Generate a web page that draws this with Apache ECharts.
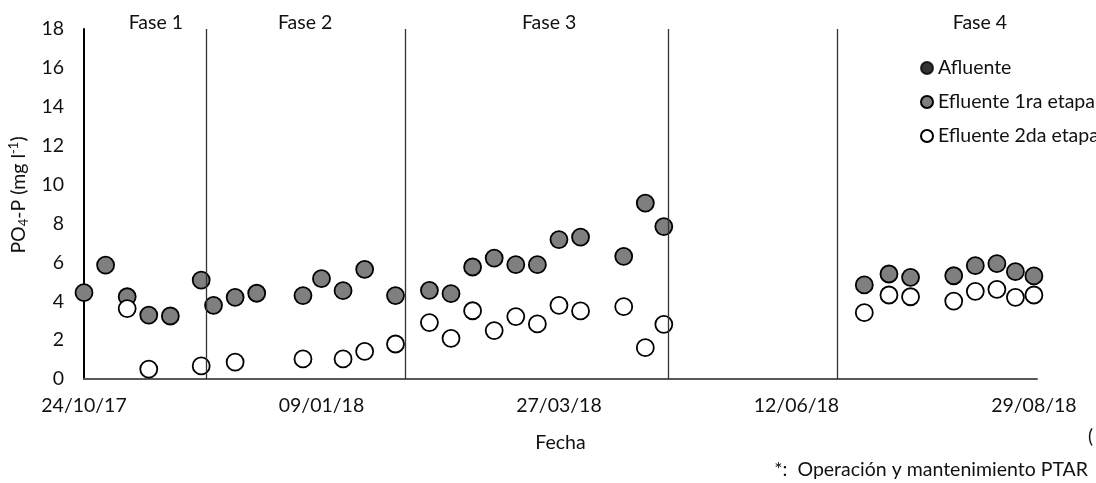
<!DOCTYPE html>
<html>
<head>
<meta charset="utf-8">
<script src="https://cdn.jsdelivr.net/npm/echarts@6/dist/echarts.min.js"></script>
<style>html,body{margin:0;padding:0;background:#fff;}#c{width:1096px;height:483px;}</style>
</head>
<body>
<div id="c"></div>
<script>
// ---- data ----
const startDate = '2017-10-24';
const tickLabels = ['24/10/17', '09/01/18', '27/03/18', '12/06/18', '29/08/18'];
const tickIntervalDays = 77;
const axisMaxDays = 309;
const yTicks = [0, 2, 4, 6, 8, 10, 12, 14, 16, 18];

const afluenteDates = [];
const afluenteValues = [];

const efl1Dates = ['2017-10-24','2017-10-31','2017-11-07','2017-11-14','2017-11-21','2017-12-01','2017-12-05','2017-12-12','2017-12-19','2018-01-03',
  '2018-01-09','2018-01-16','2018-01-23','2018-02-02','2018-02-13','2018-02-20','2018-02-27','2018-03-06','2018-03-13','2018-03-20',
  '2018-03-27','2018-04-03','2018-04-17','2018-04-24','2018-04-30','2018-07-04','2018-07-12','2018-07-19','2018-08-02','2018-08-09',
  '2018-08-16','2018-08-22','2018-08-28'];
const efl1Values = [4.44,5.86,4.23,3.29,3.24,5.09,3.79,4.20,4.41,4.29,
  5.16,4.54,5.64,4.29,4.56,4.39,5.76,6.22,5.88,5.88,
  7.17,7.30,6.31,9.04,7.84,4.84,5.40,5.23,5.31,5.83,
  5.93,5.52,5.30];

const efl2Dates = ['2017-11-07','2017-11-14','2017-12-01','2017-12-12','2018-01-03','2018-01-16','2018-01-23','2018-02-02','2018-02-13','2018-02-20',
  '2018-02-27','2018-03-06','2018-03-13','2018-03-20','2018-03-27','2018-04-03','2018-04-17','2018-04-24','2018-04-30','2018-07-04',
  '2018-07-12','2018-07-19','2018-08-02','2018-08-09','2018-08-16','2018-08-22','2018-08-28'];
const efl2Values = [3.62,0.51,0.67,0.87,1.03,1.03,1.42,1.80,2.90,2.09,
  3.51,2.49,3.21,2.83,3.79,3.50,3.72,1.61,2.81,3.41,
  4.32,4.23,4.01,4.51,4.61,4.20,4.32];

// phase boundaries (days since start) and phase label positions
const phaseBoundaries = [39.6, 104.1, 189.3, 244.1];
const phaseNames = ['Fase 1', 'Fase 2', 'Fase 3', 'Fase 4'];
const phaseLabelDays = [23.3, 71.7, 150.8, 290.5];
const footnote = '*:  Operación y mantenimiento PTAR';

// ---- helpers ----
function dayOf(s) {
  const p = s.split('-').map(Number), q = startDate.split('-').map(Number);
  return Math.round((Date.UTC(p[0], p[1]-1, p[2]) - Date.UTC(q[0], q[1]-1, q[2])) / 86400000);
}
function pairs(dates, vals) { return dates.map((d, i) => [dayOf(d), vals[i]]); }

const FONT = 'Lato';
const FS = 19.5;
const TXT = '#111';
const chart = echarts.init(document.getElementById('c'), null, {renderer: 'canvas'});

const option = {
  animation: false,
  backgroundColor: '#fff',
  textStyle: {fontFamily: FONT, color: TXT},
  grid: {left: 84, right: 59, top: 29, bottom: 104, containLabel: false, outerBoundsMode: 'none'},
  xAxis: {
    type: 'value', min: 0, max: axisMaxDays, interval: tickIntervalDays,
    name: 'Fecha', nameLocation: 'middle', nameGap: 54,
    nameTextStyle: {fontFamily: FONT, fontSize: FS, color: TXT},
    axisLine: {show: true, lineStyle: {color: '#595959', width: 2}},
    axisTick: {show: false},
    splitLine: {show: false},
    axisLabel: {
      fontFamily: FONT, fontSize: FS, color: TXT, margin: 17,
      formatter: v => (v % tickIntervalDays === 0 ? (tickLabels[v / tickIntervalDays] || '') : '')
    }
  },
  yAxis: {
    type: 'value', min: yTicks[0], max: yTicks[yTicks.length-1], interval: 2,
    name: '{a|PO}{b|4}{a|-P (mg l}{c|-1}{a|)}',
    nameLocation: 'middle', nameGap: 48, nameRotate: 90,
    nameTextStyle: {
      padding: [0, 0, 0, 18],
      rich: {
        a: {fontFamily: FONT, fontSize: FS, color: TXT, lineHeight: 24},
        b: {fontFamily: FONT, fontSize: 13, color: TXT, lineHeight: 24, padding: [10, 0, 0, 0]},
        c: {fontFamily: FONT, fontSize: 13, color: TXT, lineHeight: 24, padding: [0, 0, 10, 0]}
      }
    },
    axisLine: {show: true, lineStyle: {color: '#000', width: 2}},
    axisTick: {show: false},
    splitLine: {show: false},
    axisLabel: {fontFamily: FONT, fontSize: FS, color: TXT, margin: 20}
  },
  legend: {
    orient: 'vertical', left: 915, top: 53, itemWidth: 12, itemHeight: 12, itemGap: 14,
    textStyle: {fontFamily: FONT, fontSize: FS, color: TXT},
    data: [
      {name: 'Afluente', icon: 'circle', itemStyle: {color: '#000', borderColor: '#000', borderWidth: 2}},
      {name: 'Efluente 1ra etapa', icon: 'circle', itemStyle: {color: '#7f7f7f', borderColor: '#000', borderWidth: 2}},
      {name: 'Efluente 2da etapa', icon: 'circle', itemStyle: {color: '#fff', borderColor: '#000', borderWidth: 2}}
    ]
  },
  series: [
    {
      name: 'Afluente', type: 'scatter', symbol: 'circle', symbolSize: 16,
      itemStyle: {color: '#000', borderColor: '#000', borderWidth: 1},
      data: pairs(afluenteDates, afluenteValues)
    },
    {
      name: 'Efluente 1ra etapa', type: 'scatter', symbol: 'circle', symbolSize: 17,
      itemStyle: {color: '#7f7f7f', borderColor: '#000', borderWidth: 1.8, opacity: 1},
      data: pairs(efl1Dates, efl1Values),
      markLine: {
        silent: true, symbol: 'none', animation: false,
        lineStyle: {color: '#333', width: 1.3, type: 'solid'},
        label: {show: false},
        data: phaseBoundaries.map(b => ({xAxis: b}))
      }
    },
    {
      name: 'Efluente 2da etapa', type: 'scatter', symbol: 'circle', symbolSize: 17,
      itemStyle: {color: '#fff', borderColor: '#000', borderWidth: 1.8, opacity: 1},
      data: pairs(efl2Dates, efl2Values)
    }
  ]
};
chart.setOption(option);

// phase labels placed through the axis scale
const graphics = phaseNames.map((n, i) => {
  const p = chart.convertToPixel({gridIndex: 0}, [phaseLabelDays[i], yTicks[yTicks.length-1]]);
  return {type: 'text', x: p[0], y: p[1] - 6, silent: true,
    style: {text: n, fontFamily: FONT, fontSize: FS, fill: TXT, textAlign: 'center', textVerticalAlign: 'middle'}};
});
graphics.push({type: 'text', right: 8, top: 460, silent: true,
  style: {text: footnote, fontFamily: FONT, fontSize: 19.5, fill: TXT}});
graphics.push({type: 'text', left: 1088, top: 427, silent: true,
  style: {text: '(', fontFamily: FONT, fontSize: 19, fill: TXT}});
chart.setOption({graphic: graphics});
</script>
</body>
</html>
